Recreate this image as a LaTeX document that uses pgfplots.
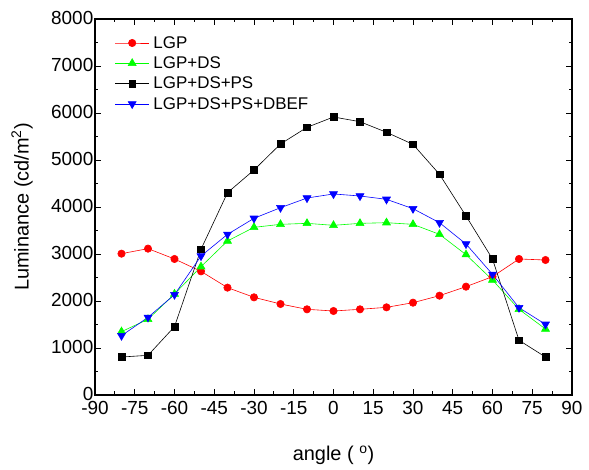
\documentclass[border=0pt]{standalone}
\usepackage{fontspec}
\setmainfont{Liberation Sans}
\usepackage{pgfplots}
\pgfplotsset{compat=1.18}
\begin{document}
\begin{tikzpicture}
\begin{axis}[
  name=ax,
  scale only axis,
  width=477bp, height=376bp,
  xmin=-90, xmax=90, ymin=0, ymax=8000,
  xtick={-90,-75,...,90},
  ytick={0,1000,...,8000},
  minor x tick num=1,
  minor y tick num=1,
  tick align=inside,
  major tick length=6bp,
  minor tick length=3.5bp,
  axis line style={line width=1.2pt},
  every tick/.style={black, line width=0.8pt},
  tick label style={font=\fontsize{19}{19}\selectfont, inner sep=1.5bp},
  xticklabel style={yshift=-5bp},
  yticklabel style={yshift=1bp},
  scaled y ticks=false,
  /pgf/number format/assume math mode=true,
  /pgf/number format/1000 sep={},
  xlabel={angle ( \textsuperscript{o})},
  ylabel={Luminance (cd/m\textsuperscript{2})},
  label style={font=\fontsize{20}{20}\selectfont},
  xlabel style={at={(axis description cs:0.5,-0.16)}, anchor=center},
  ylabel style={at={(axis description cs:-0.153,0.5)}, anchor=center},
  legend style={draw=none, fill=none, at={(0.035,0.965)}, anchor=north west,
    font=\fontsize{17}{19}\selectfont, row sep=3bp, nodes={inner xsep=4bp}},
  legend cell align=left,
  legend image code/.code={\draw[mark repeat=2,mark phase=2] plot coordinates {(0cm,0cm) (0.6cm,0cm) (1.2cm,0cm)};},
  every axis plot/.append style={line width=0.6pt},
]
\addplot[red, mark=*, mark size=3.7pt, mark options={fill=red}] coordinates {
(-80,3007) (-70,3114) (-60,2894) (-50,2631) (-40,2284) (-30,2078) (-20,1936)
(-10,1823) (0,1787) (10,1823) (20,1865) (30,1964) (40,2113) (50,2305)
(60,2518) (70,2894) (80,2872)};
\addlegendentry{LGP}
\addplot[green, mark=triangle*, mark size=4.6pt, mark options={fill=green}] coordinates {
(-80,1348) (-70,1610) (-60,2149) (-50,2730) (-40,3277) (-30,3567) (-20,3631)
(-10,3652) (0,3610) (10,3652) (20,3666) (30,3631) (40,3418) (50,2986)
(60,2447) (70,1823) (80,1404)};
\addlegendentry{LGP+DS}
\addplot[black, mark=square*, mark size=3.4pt, mark options={fill=black}] coordinates {
(-80,808) (-70,844) (-60,1454) (-50,3100) (-40,4304) (-30,4787) (-20,5340)
(-10,5695) (0,5915) (10,5815) (20,5589) (30,5333) (40,4695) (50,3809)
(60,2894) (70,1164) (80,808)};
\addlegendentry{LGP+DS+PS}
\addplot[blue, mark=triangle*, mark size=4.6pt, mark options={fill=blue, rotate=180}] coordinates {
(-80,1262) (-70,1652) (-60,2135) (-50,2957) (-40,3418) (-30,3759) (-20,3985)
(-10,4191) (0,4277) (10,4234) (20,4163) (30,3964) (40,3666) (50,3213)
(60,2567) (70,1858) (80,1504)};
\addlegendentry{LGP+DS+PS+DBEF}
\end{axis}
\path ([xshift=-95bp,yshift=-75bp]ax.south west) rectangle ([xshift=17bp,yshift=19bp]ax.north east);
\end{tikzpicture}
\end{document}
